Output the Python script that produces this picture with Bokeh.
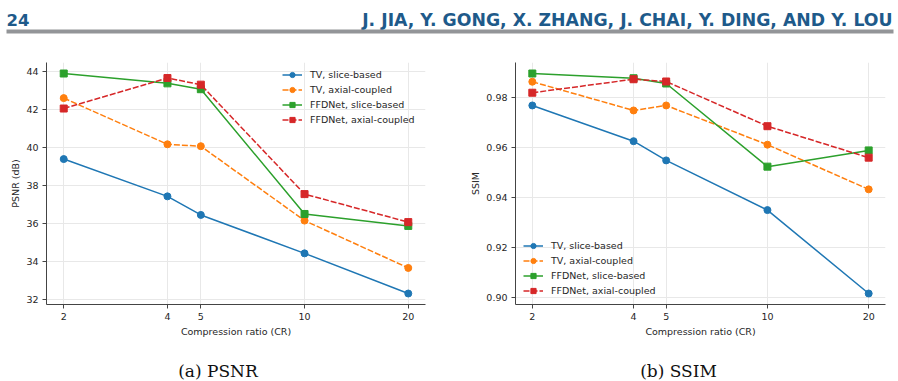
from bokeh.plotting import figure
from bokeh.layouts import column, row
from bokeh.models import (Range1d, FixedTicker, PrintfTickFormatter, Legend, LegendItem)
from bokeh.core.properties import value
from bokeh.embed import file_html
from bokeh.resources import INLINE

# Compression ratios tested
cr = [2, 4, 5, 10, 20]
cr_ticks = [2, 4, 5, 10, 20]

# PSNR (dB)
psnr_tv_slice = [39.40, 37.43, 36.45, 34.42, 32.30]
psnr_tv_axial = [42.62, 40.18, 40.08, 36.15, 33.65]
psnr_ffd_slice = [43.92, 43.40, 43.09, 36.50, 35.87]
psnr_ffd_axial = [42.07, 43.68, 43.33, 37.55, 36.07]
psnr_ticks = [32, 34, 36, 38, 40, 42, 44]

# SSIM
ssim_tv_slice = [0.9769, 0.9626, 0.9549, 0.9350, 0.9016]
ssim_tv_axial = [0.9864, 0.9749, 0.9769, 0.9612, 0.9433]
ssim_ffd_slice = [0.9897, 0.9878, 0.9857, 0.9524, 0.9589]
ssim_ffd_axial = [0.9820, 0.9874, 0.9865, 0.9686, 0.9560]
ssim_ticks = [0.90, 0.92, 0.94, 0.96, 0.98]

series_names = ["TV, slice-based", "TV, axial-coupled",
                "FFDNet, slice-based", "FFDNet, axial-coupled"]
colors = ["#1f77b4", "#ff7f0e", "#2ca02c", "#d62728"]
dashes = ["solid", "6 2", "solid", "6 2"]
markers = ["circle", "circle", "square", "square"]

TICK_FONT = "DejaVu Sans"
AXIS_COLOR = "#444444"
TEXT_COLOR = "#262626"


def padded(lo, hi, frac=0.05):
    span = hi - lo
    return lo - frac * span, hi + frac * span


def make_panel(ys, y_ticks, y_fmt, y_label, width, border_left, border_right,
               legend_loc):
    ymin = min(min(s) for s in ys)
    ymax = max(max(s) for s in ys)
    y0, y1 = padded(ymin, ymax)
    # log-x limits with 5% margin in log space
    x0 = min(cr) / 10 ** 0.05
    x1 = max(cr) * 10 ** 0.05
    p = figure(width=width, height=300, x_axis_type="log",
               x_range=Range1d(x0, x1), y_range=Range1d(y0, y1),
               output_backend="svg", toolbar_location=None,
               min_border_left=border_left, min_border_right=border_right,
               min_border_top=22, min_border_bottom=36)
    p.outline_line_color = None
    p.background_fill_color = "white"
    p.border_fill_color = "white"

    p.xaxis.ticker = FixedTicker(ticks=cr_ticks, minor_ticks=[])
    p.xaxis.formatter = PrintfTickFormatter(format="%d")
    p.yaxis.ticker = FixedTicker(ticks=y_ticks, minor_ticks=[])
    p.yaxis.formatter = PrintfTickFormatter(format=y_fmt)

    for ax in (p.xaxis[0], p.yaxis[0]):
        ax.axis_line_color = AXIS_COLOR
        ax.axis_line_width = 1
        ax.major_tick_line_color = AXIS_COLOR
        ax.major_tick_out = 4
        ax.major_tick_in = 0
        ax.minor_tick_line_color = None
        ax.major_label_text_font = TICK_FONT
        ax.major_label_text_font_size = "9.5px"
        ax.major_label_text_color = TEXT_COLOR
        ax.major_label_standoff = 4
        ax.axis_label_text_font = TICK_FONT
        ax.axis_label_text_font_size = "9.5px"
        ax.axis_label_text_font_style = "normal"
        ax.axis_label_text_color = TEXT_COLOR
        ax.axis_label_standoff = 3

    p.yaxis.axis_label_standoff = 2
    p.xaxis.axis_label = "Compression ratio (CR)"
    p.yaxis.axis_label = y_label

    p.xgrid.grid_line_color = "#e8e8e8"
    p.ygrid.grid_line_color = "#e8e8e8"
    p.xgrid.grid_line_width = 1
    p.ygrid.grid_line_width = 1

    items = []
    for name, s, c, d, m in zip(series_names, ys, colors, dashes, markers):
        ln = p.line(cr, s, line_color=c, line_width=1.5, line_dash=d)
        sc = p.scatter(cr, s, marker=m, size=7, fill_color=c, line_color=c)
        items.append(LegendItem(label=name, renderers=[ln, sc]))

    legend = Legend(items=items, location=legend_loc,
                    background_fill_alpha=0, border_line_alpha=0,
                    padding=0, margin=0, spacing=2,
                    glyph_width=20, glyph_height=13, label_height=13,
                    label_standoff=8,
                    label_text_font=TICK_FONT, label_text_font_size="9.5px",
                    label_text_color=TEXT_COLOR)
    p.add_layout(legend, "center")
    return p


p1 = make_panel([psnr_tv_slice, psnr_tv_axial, psnr_ffd_slice, psnr_ffd_axial],
                psnr_ticks, "%d", "PSNR (dB)", 449, 46, 24, (236, 178))
p2 = make_panel([ssim_tv_slice, ssim_tv_axial, ssim_ffd_slice, ssim_ffd_axial],
                ssim_ticks, "%.2f", "SSIM", 449, 66, 13, (8, 7))

# Running page header
header = figure(width=898, height=40, x_range=Range1d(0, 898), y_range=Range1d(40, 0),
                x_axis_type=None, y_axis_type=None, output_backend="svg",
                toolbar_location=None, min_border=0)
header.outline_line_color = None
header.grid.visible = False
hdr_color = "#1e5a8a"
header.text(x=[6], y=[19], text=["24"], text_font=value("DejaVu Sans"),
            text_font_style="bold", text_font_size="16.5px", text_color=hdr_color,
            text_baseline="alphabetic", text_align="left")
header.text(x=[892], y=[19], text=["J. JIA, Y. GONG, X. ZHANG, J. CHAI, Y. DING, AND Y. LOU"],
            text_font=value("DejaVu Sans"), text_font_style="bold",
            text_font_size="17.3px", text_color=hdr_color,
            text_baseline="alphabetic", text_align="right")
header.quad(left=[6], right=[893], top=[29], bottom=[33],
            fill_color="#939598", line_color=None)

# Sub-figure captions
caption = figure(width=898, height=41, x_range=Range1d(0, 898), y_range=Range1d(41, 0),
                 x_axis_type=None, y_axis_type=None, output_backend="svg",
                 toolbar_location=None, min_border=0)
caption.outline_line_color = None
caption.grid.visible = False
caption.text(x=[217.5, 678], y=[30, 30], text=["(a) PSNR", "(b) SSIM"],
             text_font=value("DejaVu Serif"), text_font_size="17px",
             text_color="#111111", text_baseline="alphabetic", text_align="center")

layout = column(header, row(p1, p2), caption)

with open("out.html", "w") as f:
    f.write(file_html(layout, INLINE))
